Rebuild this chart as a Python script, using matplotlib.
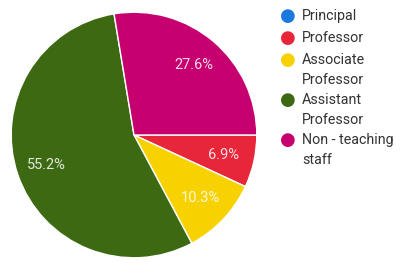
import matplotlib
matplotlib.use('Agg')
import matplotlib.pyplot as plt

plt.rcParams['font.family'] = ['Roboto', 'DejaVu Sans']

labels = ['Principal', 'Professor', 'Associate\nProfessor', 'Assistant\nProfessor', 'Non - teaching\nstaff']
shares = [0.0, 6.9, 10.3, 55.2, 27.6]
colors = ['#1a78de', '#e8263a', '#f7d200', '#3d6912', '#c6006f']

fig = plt.figure(figsize=(4.02, 2.63), dpi=100)
W, H = 402, 263

# pie centre (134, 135) px from top-left, radius 124 px
cx, cy, r = 134, 135, 124
ax = fig.add_axes([(cx - r) / W, (H - cy - r) / H, 2 * r / W, 2 * r / H])

def pct(v):
    return f'{v:.1f}%' if v > 0 else ''

wedges, texts, autotexts = ax.pie(
    shares, colors=colors, startangle=0, counterclock=False,
    autopct=pct, pctdistance=0.75, radius=1,
    wedgeprops=dict(edgecolor='white', linewidth=1.0),
    textprops=dict(color='white', fontsize=10.5, alpha=0.85))
ax.set_xlim(-1.01, 1.01)
ax.set_ylim(-1.01, 1.01)
ax.set_aspect('equal')
ax.axis('off')

# legend drawn by hand so the dot lines up with the first text line
y = 16
for lab, col in zip(labels, colors):
    fig.text(288 / W, 1 - y / H, '\u25CF', color=col, fontsize=13,
             ha='center', va='center', family='DejaVu Sans')
    fig.text(302 / W, 1 - (y - 7) / H, lab, color='#333333', fontsize=10.3,
             ha='left', va='top', linespacing=1.5)
    y += 22 + 18 * lab.count('\n')

fig.savefig('out.png', dpi=100, facecolor='white')
